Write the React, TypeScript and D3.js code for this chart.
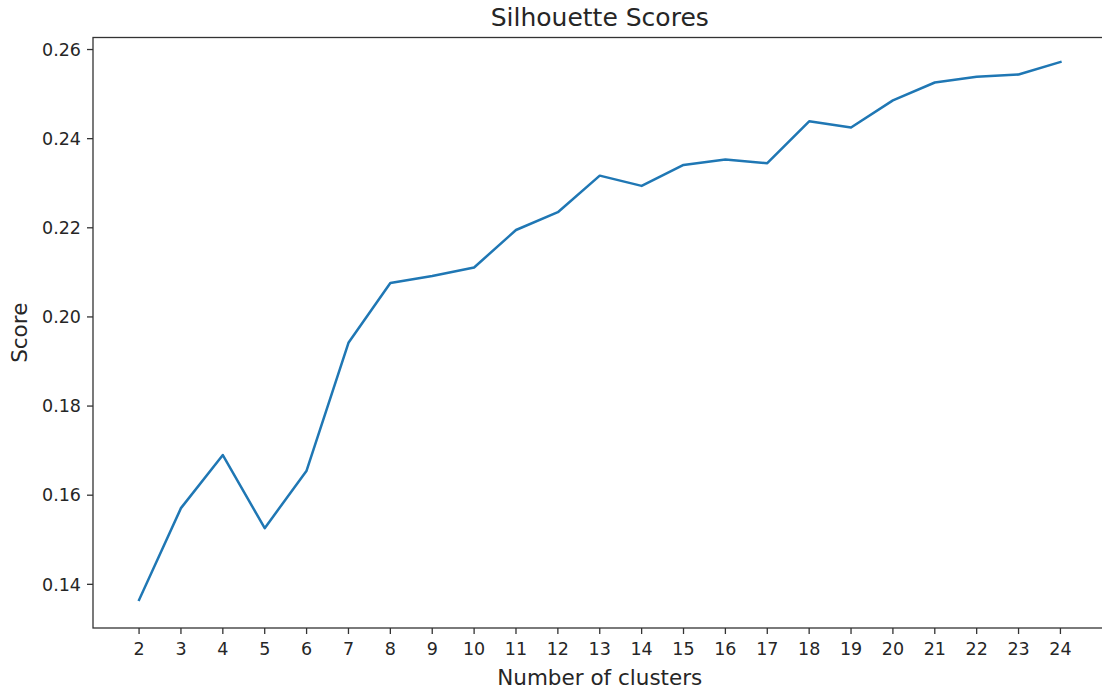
import React from "react";
import * as d3 from "d3";

const clusters = [2, 3, 4, 5, 6, 7, 8, 9, 10, 11, 12, 13, 14, 15, 16, 17, 18, 19, 20, 21, 22, 23, 24];
const scores = [
  0.1365, 0.1571, 0.1690, 0.1526, 0.1655, 0.1942, 0.2076, 0.2092, 0.2111, 0.2195, 0.2235, 0.2317,
  0.2294, 0.2341, 0.2353, 0.2345, 0.2439, 0.2425, 0.2486, 0.2526, 0.2539, 0.2544, 0.2572,
];
const yTicks = [0.14, 0.16, 0.18, 0.2, 0.22, 0.24, 0.26];
const xDomain = [0.9, 25.1];
const yDomain = [0.1302, 0.2627];

const W = 1102;
const H = 689;
const M = { left: 93, top: 37.5, right: 1106.5, bottom: 628 };
const FONT = "DejaVu Sans, sans-serif";
const TEXT = "#262626";

export default function App() {
  const x = d3.scaleLinear().domain(xDomain).range([M.left, M.right]);
  const y = d3.scaleLinear().domain(yDomain).range([M.bottom, M.top]);
  const line = d3
    .line<number>()
    .x((_, i) => x(clusters[i]))
    .y((d) => y(d));

  return (
    <svg
      width={W}
      height={H}
      style={{ position: "absolute", left: 0, top: 0, background: "#fff" }}
      fontFamily={FONT}
    >
      <rect x={0} y={0} width={W} height={H} fill="#fff" />
      {/* line */}
      <path d={line(scores) || ""} fill="none" stroke="#1f77b4" strokeWidth={2.5} strokeLinejoin="round" strokeLinecap="square" />
      {/* spines */}
      <rect
        x={M.left}
        y={M.top}
        width={M.right - M.left}
        height={M.bottom - M.top}
        fill="none"
        stroke="#333"
        strokeWidth={1.3}
      />
      {/* y ticks */}
      {yTicks.map((t) => (
        <g key={t}>
          <line x1={M.left - 6} x2={M.left} y1={y(t)} y2={y(t)} stroke="#333" strokeWidth={1.3} />
          <text x={M.left - 12} y={y(t)} dy="0.36em" textAnchor="end" fontSize={17.5} fill={TEXT}>
            {t.toFixed(2)}
          </text>
        </g>
      ))}
      {/* x ticks */}
      {clusters.map((c) => (
        <g key={c}>
          <line x1={x(c)} x2={x(c)} y1={M.bottom} y2={M.bottom + 6} stroke="#333" strokeWidth={1.3} />
          <text x={x(c)} y={655} textAnchor="middle" fontSize={17.5} fill={TEXT}>
            {c}
          </text>
        </g>
      ))}
      {/* labels */}
      <text x={(M.left + M.right) / 2} y={685} textAnchor="middle" fontSize={21.5} fill={TEXT}>
        Number of clusters
      </text>
      <text
        transform={`translate(27, ${(M.top + M.bottom) / 2}) rotate(-90)`}
        textAnchor="middle"
        fontSize={21.5}
        fill={TEXT}
      >
        Score
      </text>
      <text x={(M.left + M.right) / 2} y={26} textAnchor="middle" fontSize={25} fill={TEXT}>
        Silhouette Scores
      </text>
    </svg>
  );
}
